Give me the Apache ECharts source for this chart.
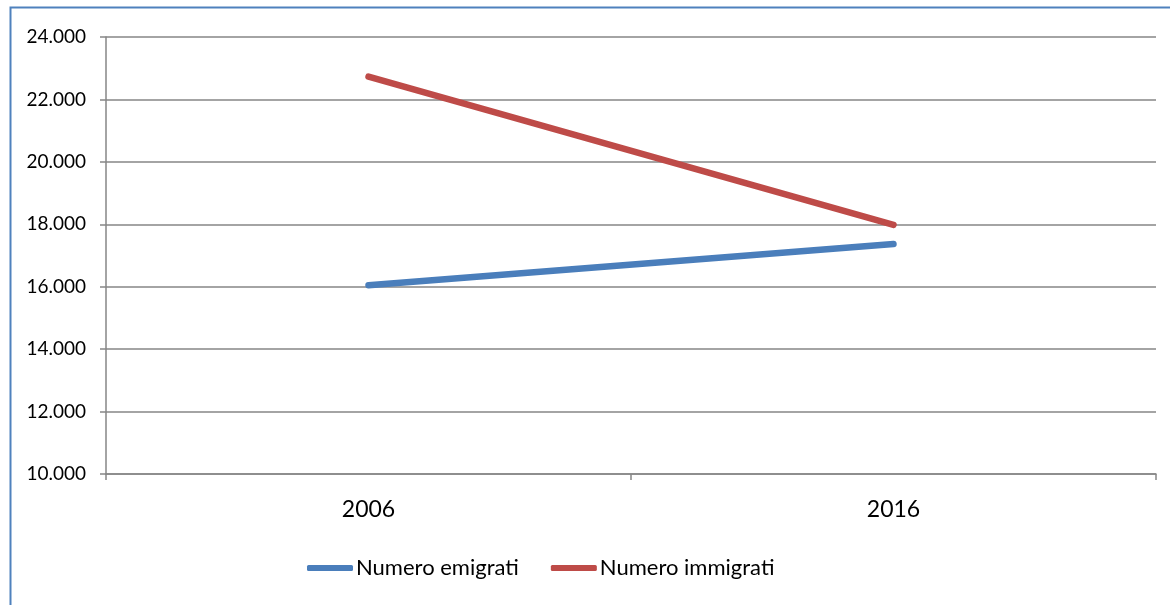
<!DOCTYPE html>
<html><head><meta charset="utf-8">
<style>html,body{margin:0;padding:0;background:#fff;}#c{width:1170px;height:605px;}</style>
<script src="https://cdn.jsdelivr.net/npm/echarts@6/dist/echarts.min.js"></script>
</head><body><div id="c"></div>
<script>
var categories = ['2006', '2016'];
var emigrati = [16050, 17370];
var immigrati = [22730, 17980];
var yMin = 10000, yMax = 24000, yStep = 2000;

var chart = echarts.init(document.getElementById('c'));
var fmt = function (v) { return String(v).replace(/\B(?=(\d{3})+(?!\d))/g, '.'); };
chart.setOption({
  animation: false,
  graphic: [{ type: 'rect', shape: { x: 10.5, y: 7.5, width: 1200, height: 700 }, style: { fill: 'none', stroke: '#4F81BD', lineWidth: 2 }, silent: true }],
  grid: { left: 106, right: 14, top: 37, bottom: 131 },
  legend: {
    bottom: 21, left: 302,
    itemWidth: 46, itemHeight: 6, itemGap: 32,
    icon: 'roundRect',
    textStyle: { fontFamily: 'Lato', fontSize: 22, color: '#000', padding: [0, 0, 0, -2] },
    data: ['Numero emigrati', 'Numero immigrati']
  },
  xAxis: {
    type: 'category', data: categories, boundaryGap: true,
    axisLine: { lineStyle: { color: '#868686', width: 1.5 } },
    axisTick: { show: true, length: 6, lineStyle: { color: '#868686', width: 1.5 } },
    axisLabel: { fontFamily: 'Lato', fontSize: 23, color: '#000', margin: 24 }
  },
  yAxis: {
    type: 'value', min: yMin, max: yMax, interval: yStep,
    axisLine: { show: true, lineStyle: { color: '#868686', width: 1.5 } },
    axisTick: { show: true, length: 6, lineStyle: { color: '#868686', width: 1.5 } },
    splitLine: { lineStyle: { color: '#868686', width: 1.5 } },
    axisLabel: { fontFamily: 'Lato', fontSize: 19, color: '#000', margin: 20, formatter: fmt }
  },
  series: [
    { name: 'Numero emigrati', type: 'line', data: emigrati, symbol: 'none', color: '#4A7EBB',
      lineStyle: { width: 6.5, cap: 'round', color: '#4A7EBB' } },
    { name: 'Numero immigrati', type: 'line', data: immigrati, symbol: 'none', color: '#BE4B48',
      lineStyle: { width: 6.5, cap: 'round', color: '#BE4B48' } }
  ]
});
</script></body></html>
